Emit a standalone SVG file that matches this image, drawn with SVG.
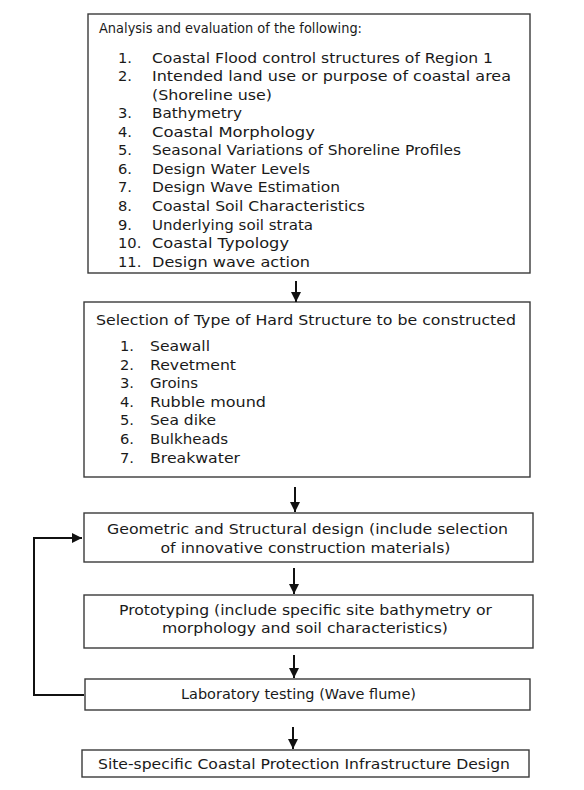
<svg xmlns="http://www.w3.org/2000/svg" width="584" height="790" viewBox="0 0 584 790">
<defs>
<style>
.box{fill:#ffffff;stroke:#3a3a3a;stroke-width:1.4}
.t{font-family:"DejaVu Sans","Liberation Sans",sans-serif;font-size:14.7px;fill:#1a1a1a}
.h{font-size:13.2px}
.c{text-anchor:middle}
.ln{stroke:#111111;stroke-width:2;fill:none}
</style>
<marker id="ah" markerUnits="userSpaceOnUse" markerWidth="10" markerHeight="10" viewBox="0 0 10 10" refX="10" refY="5" orient="auto">
<path d="M0,0 L10,5 L0,10 z" fill="#111111"/>
</marker>
</defs>
<rect width="584" height="790" fill="#ffffff"/>

<g id="analysis">
<rect class="box" x="88" y="14" width="442" height="259"/>
<text class="t h" x="99" y="33" textLength="263" lengthAdjust="spacingAndGlyphs">Analysis and evaluation of the following:</text>
<text class="t" x="118" y="62.5">1.</text><text class="t" x="152" y="62.5" textLength="341" lengthAdjust="spacingAndGlyphs">Coastal Flood control structures of Region 1</text>
<text class="t" x="118" y="81">2.</text><text class="t" x="152" y="81" textLength="359" lengthAdjust="spacingAndGlyphs">Intended land use or purpose of coastal area</text>
<text class="t" x="152" y="99.6" textLength="120" lengthAdjust="spacingAndGlyphs">(Shoreline use)</text>
<text class="t" x="118" y="118.2">3.</text><text class="t" x="152" y="118.2" textLength="90" lengthAdjust="spacingAndGlyphs">Bathymetry</text>
<text class="t" x="118" y="136.7">4.</text><text class="t" x="152" y="136.7" textLength="163" lengthAdjust="spacingAndGlyphs">Coastal Morphology</text>
<text class="t" x="118" y="155.3">5.</text><text class="t" x="152" y="155.3" textLength="309" lengthAdjust="spacingAndGlyphs">Seasonal Variations of Shoreline Profiles</text>
<text class="t" x="118" y="173.8">6.</text><text class="t" x="152" y="173.8" textLength="158" lengthAdjust="spacingAndGlyphs">Design Water Levels</text>
<text class="t" x="118" y="192.4">7.</text><text class="t" x="152" y="192.4" textLength="188" lengthAdjust="spacingAndGlyphs">Design Wave Estimation</text>
<text class="t" x="118" y="210.9">8.</text><text class="t" x="152" y="210.9" textLength="213" lengthAdjust="spacingAndGlyphs">Coastal Soil Characteristics</text>
<text class="t" x="118" y="229.5">9.</text><text class="t" x="152" y="229.5" textLength="161" lengthAdjust="spacingAndGlyphs">Underlying soil strata</text>
<text class="t" x="118" y="248">10.</text><text class="t" x="152" y="248" textLength="137" lengthAdjust="spacingAndGlyphs">Coastal Typology</text>
<text class="t" x="118" y="266.5">11.</text><text class="t" x="152" y="266.5" textLength="158" lengthAdjust="spacingAndGlyphs">Design wave action</text>
</g>

<g id="selection">
<rect class="box" x="84" y="302" width="446" height="175"/>
<text class="t" x="96" y="325" textLength="420" lengthAdjust="spacingAndGlyphs">Selection of Type of Hard Structure to be constructed</text>
<text class="t" x="120" y="351">1.</text><text class="t" x="150" y="351" textLength="60" lengthAdjust="spacingAndGlyphs">Seawall</text>
<text class="t" x="120" y="369.6">2.</text><text class="t" x="150" y="369.6" textLength="86" lengthAdjust="spacingAndGlyphs">Revetment</text>
<text class="t" x="120" y="388.2">3.</text><text class="t" x="150" y="388.2" textLength="48" lengthAdjust="spacingAndGlyphs">Groins</text>
<text class="t" x="120" y="406.8">4.</text><text class="t" x="150" y="406.8" textLength="116" lengthAdjust="spacingAndGlyphs">Rubble mound</text>
<text class="t" x="120" y="425.4">5.</text><text class="t" x="150" y="425.4" textLength="66" lengthAdjust="spacingAndGlyphs">Sea dike</text>
<text class="t" x="120" y="444">6.</text><text class="t" x="150" y="444" textLength="78" lengthAdjust="spacingAndGlyphs">Bulkheads</text>
<text class="t" x="120" y="462.6">7.</text><text class="t" x="150" y="462.6" textLength="90" lengthAdjust="spacingAndGlyphs">Breakwater</text>
</g>

<g id="geometric">
<rect class="box" x="84" y="513" width="449" height="49"/>
<text class="t c" x="307.5" y="534" textLength="401" lengthAdjust="spacingAndGlyphs">Geometric and Structural design (include selection</text>
<text class="t c" x="305.5" y="552.5" textLength="290" lengthAdjust="spacingAndGlyphs">of innovative construction materials)</text>
</g>

<g id="prototyping">
<rect class="box" x="84" y="595" width="449" height="53"/>
<text class="t c" x="305.5" y="615" textLength="373" lengthAdjust="spacingAndGlyphs">Prototyping (include specific site bathymetry or</text>
<text class="t c" x="305" y="633" textLength="286" lengthAdjust="spacingAndGlyphs">morphology and soil characteristics)</text>
</g>

<g id="laboratory">
<rect class="box" x="85" y="679" width="445" height="31"/>
<text class="t c" x="298.5" y="698.5" textLength="235" lengthAdjust="spacingAndGlyphs">Laboratory testing (Wave flume)</text>
</g>

<g id="final">
<rect class="box" x="82" y="750" width="447" height="27"/>
<text class="t c" x="304" y="768.5" textLength="412" lengthAdjust="spacingAndGlyphs">Site-specific Coastal Protection Infrastructure Design</text>
</g>

<g id="connectors">
<line class="ln" x1="296" y1="281" x2="296" y2="302" marker-end="url(#ah)"/>
<line class="ln" x1="295" y1="487" x2="295" y2="512" marker-end="url(#ah)"/>
<line class="ln" x1="294" y1="568" x2="294" y2="594" marker-end="url(#ah)"/>
<line class="ln" x1="294" y1="655" x2="294" y2="678" marker-end="url(#ah)"/>
<line class="ln" x1="293" y1="727" x2="293" y2="749" marker-end="url(#ah)"/>
<polyline class="ln" points="84,695 34,695 34,538 82,538" marker-end="url(#ah)"/>
</g>
</svg>
